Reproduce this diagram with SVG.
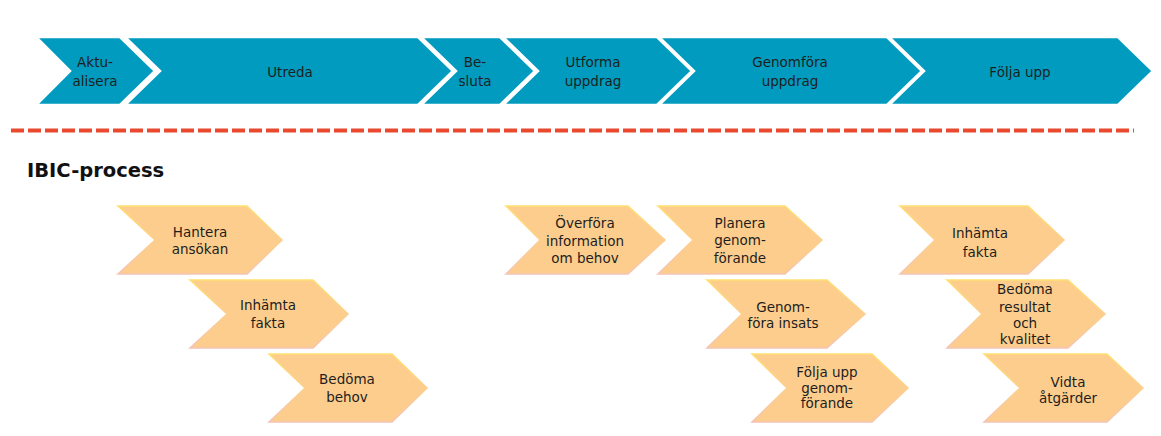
<svg xmlns="http://www.w3.org/2000/svg" width="1161" height="436" viewBox="0 0 1161 436">
<defs>
<linearGradient id="edge" x1="0" y1="0" x2="0" y2="1">
<stop offset="0" stop-color="#FFE070"/>
<stop offset="0.5" stop-color="#FCD08C"/>
<stop offset="1" stop-color="#F4C3B6"/>
</linearGradient>
</defs>
<style>
.band{fill:#009BBF;stroke:#FFFFFF;stroke-width:2.5;stroke-linejoin:miter}
.ibic{fill:#FDCD8D;stroke:url(#edge);stroke-width:1.5}
text{font-family:"DejaVu Sans","Liberation Sans",sans-serif;font-size:13.5px;fill:#1E1E1E;text-anchor:middle}
.title{font-size:19.5px;font-weight:bold;text-anchor:start;fill:#111}
</style>
<rect width="1161" height="436" fill="#FFFFFF"/>
<g id="top-band">
<g id="aktualisera"><polygon class="band" points="36,37 120,37 155,71 120,105 36,105 70,71"/><text x="95" y="67">Aktu-</text><text x="95" y="86">alisera</text></g>
<g id="utreda"><polygon class="band" points="125,37 418,37 453,71 418,105 125,105 160,71"/><text x="290" y="77">Utreda</text></g>
<g id="besluta"><polygon class="band" points="421,37 500,37 535,71 500,105 421,105 456,71"/><text x="475" y="67">Be-</text><text x="475" y="86">sluta</text></g>
<g id="utforma"><polygon class="band" points="503,37 657,37 692,71 657,105 503,105 538,71"/><text x="593" y="67">Utforma</text><text x="593" y="86">uppdrag</text></g>
<g id="genomfora"><polygon class="band" points="659,37 887,37 922,71 887,105 659,105 694,71"/><text x="790" y="67">Genomföra</text><text x="790" y="86">uppdrag</text></g>
<g id="folja-upp"><polygon class="band" points="889,37 1118,37 1153,71 1118,105 889,105 924,71"/><text x="1020" y="77">Följa upp</text></g>
</g>
<g id="connectors">
<line x1="11" y1="130.5" x2="1134" y2="130.5" stroke="#E94A2F" stroke-width="4" stroke-dasharray="13 4"/>
</g>
<text class="title" x="27" y="177">IBIC-process</text>
<g id="hantera"><polygon class="ibic" points="118,206 247,206 282,240 247,274 118,274 155,240"/><text x="200" y="237">Hantera</text><text x="200" y="254">ansökan</text></g>
<g id="inhamta1"><polygon class="ibic" points="190,280 313,280 348,314 313,348 190,348 227,314"/><text x="268" y="310">Inhämta</text><text x="268" y="328">fakta</text></g>
<g id="bedoma-behov"><polygon class="ibic" points="269,354 392,354 427,388 392,422 269,422 305,388"/><text x="347" y="384">Bedöma</text><text x="347" y="402">behov</text></g>
<g id="overfora"><polygon class="ibic" points="506,206 628,206 665,240 628,274 506,274 540,240"/><text x="585" y="228">Överföra</text><text x="585" y="246">information</text><text x="585" y="263">om behov</text></g>
<g id="planera"><polygon class="ibic" points="658,206 785,206 822,240 785,274 658,274 693,240"/><text x="740" y="228">Planera</text><text x="740" y="245">genom-</text><text x="740" y="263">förande</text></g>
<g id="genomfora-insats"><polygon class="ibic" points="707,280 827,280 865,314 827,348 707,348 742,314"/><text x="783" y="312">Genom-</text><text x="783" y="328">föra insats</text></g>
<g id="folja-genomforande"><polygon class="ibic" points="752,354 872,354 908,388 872,422 752,422 787,388"/><text x="827" y="377">Följa upp</text><text x="827" y="393">genom-</text><text x="827" y="408">förande</text></g>
<g id="inhamta2"><polygon class="ibic" points="900,206 1028,206 1064,240 1028,274 900,274 935,240"/><text x="980" y="238">Inhämta</text><text x="980" y="257">fakta</text></g>
<g id="bedoma-resultat"><polygon class="ibic" points="947,280 1068,280 1105,314 1068,348 947,348 982,314"/><text x="1025" y="294">Bedöma</text><text x="1025" y="312">resultat</text><text x="1025" y="328">och</text><text x="1025" y="344">kvalitet</text></g>
<g id="vidta"><polygon class="ibic" points="984,354 1107,354 1143,388 1107,422 984,422 1020,388"/><text x="1068" y="387">Vidta</text><text x="1068" y="403">åtgärder</text></g>
</svg>
